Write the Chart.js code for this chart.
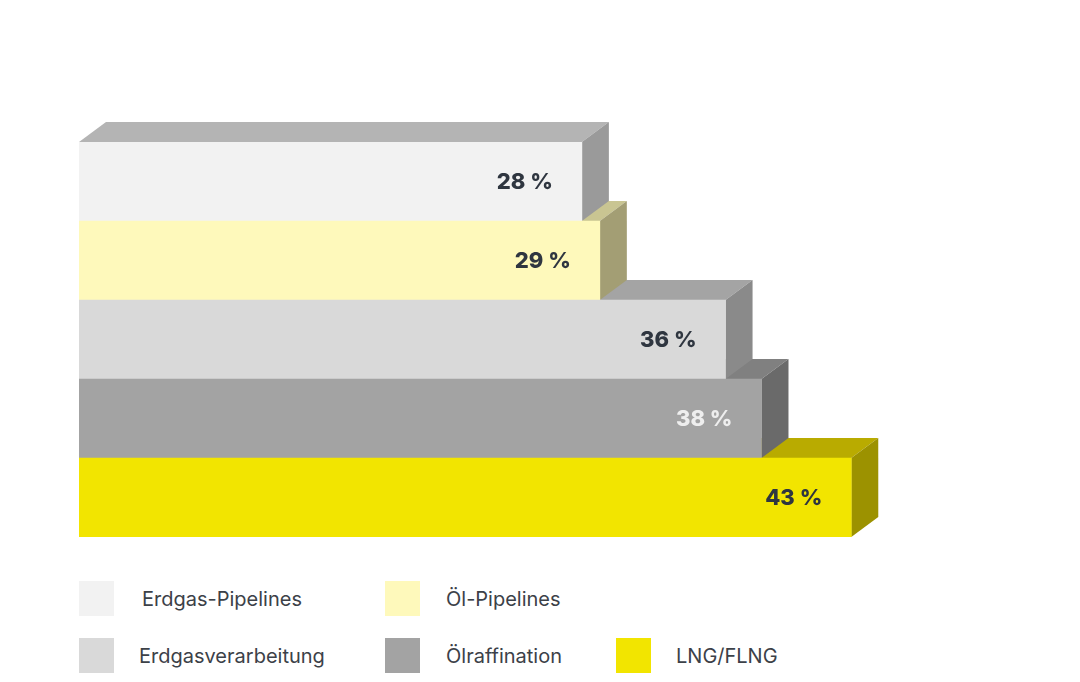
<!DOCTYPE html>
<html>
<head>
<meta charset="utf-8">
<script src="https://cdn.jsdelivr.net/npm/chart.js@4.4.1/dist/chart.umd.min.js"></script>
<style>
  body { margin: 0; background: #fff; width: 1080px; height: 682px; position: relative; overflow: hidden; }
  #wrap { position: absolute; left: 0; top: 0; width: 1080px; height: 560px; }
  .lg { position: absolute; font-family: Inter, "Noto Sans", sans-serif; font-size: 20px; color: #3c4148; }
  .sw { position: absolute; width: 35px; height: 35px; }
</style>
</head>
<body>
<div id="wrap"><canvas id="c" width="1080" height="560"></canvas></div>
<div id="legend"></div>
<script>
// data
const categories = ['Erdgas-Pipelines', 'Öl-Pipelines', 'Erdgasverarbeitung', 'Ölraffination', 'LNG/FLNG'];
const values = [28, 29, 36, 38, 43];
const frontColors = ['#f2f2f2', '#fef9bb', '#d9d9d9', '#a3a3a3', '#f2e500'];
const topColors = ['#b4b4b4', '#c9c592', '#a4a4a4', '#808080', '#b9ab00'];
const sideColors = ['#9a9a9a', '#a39e74', '#8a8a8a', '#6a6a6a', '#9c9200'];
const labelColors = ['#2f3640', '#2f3640', '#2f3640', '#eeeeee', '#2f3640'];

const DX = 27, DY = 20;

const box3d = {
  id: 'box3d',
  beforeDatasetsDraw(chart) {
    const ctx = chart.ctx;
    const bars = chart.getDatasetMeta(0).data;
    ctx.save();
    for (let i = bars.length - 1; i >= 0; i--) {
      const b = bars[i].getProps(['x', 'y', 'base', 'height'], true);
      const top = b.y - b.height / 2, bot = b.y + b.height / 2;
      // top face
      ctx.fillStyle = topColors[i];
      ctx.beginPath();
      ctx.moveTo(b.base, top);
      ctx.lineTo(b.base + DX, top - DY);
      ctx.lineTo(b.x + DX, top - DY);
      ctx.lineTo(b.x, top);
      ctx.closePath();
      ctx.fill();
      // side face
      ctx.fillStyle = sideColors[i];
      ctx.beginPath();
      ctx.moveTo(b.x, top);
      ctx.lineTo(b.x + DX, top - DY);
      ctx.lineTo(b.x + DX, bot - DY);
      ctx.lineTo(b.x, bot);
      ctx.closePath();
      ctx.fill();
    }
    ctx.restore();
  },
  afterDatasetsDraw(chart) {
    const ctx = chart.ctx;
    const bars = chart.getDatasetMeta(0).data;
    ctx.save();
    ctx.font = '800 22px Inter, "Noto Sans", sans-serif';
    ctx.textAlign = 'right';
    ctx.textBaseline = 'middle';
    bars.forEach((bar, i) => {
      const b = bar.getProps(['x', 'y'], true);
      ctx.fillStyle = labelColors[i];
      ctx.fillText(values[i] + ' %', b.x - 29, b.y + 1);
    });
    ctx.restore();
  }
};

new Chart(document.getElementById('c'), {
  type: 'bar',
  data: {
    labels: categories,
    datasets: [{
      data: values,
      backgroundColor: frontColors,
      borderWidth: 0,
      categoryPercentage: 1,
      barPercentage: 1
    }]
  },
  options: {
    indexAxis: 'y',
    responsive: false,
    animation: false,
    layout: { padding: { left: 79, right: 103, top: 142, bottom: 23 } },
    scales: {
      x: { display: false, min: 0, max: 50 },
      y: { display: false }
    },
    plugins: { legend: { display: false }, tooltip: { enabled: false } }
  },
  plugins: [box3d]
});

// legend (two rows)
const legendPos = [
  { sx: 79, sy: 581, tx: 142 },
  { sx: 385, sy: 581, tx: 446 },
  { sx: 79, sy: 638, tx: 139 },
  { sx: 385, sy: 638, tx: 446 },
  { sx: 616, sy: 638, tx: 676 }
];
const lg = document.getElementById('legend');
categories.forEach((name, i) => {
  const p = legendPos[i];
  const sw = document.createElement('div');
  sw.className = 'sw';
  sw.style.left = p.sx + 'px';
  sw.style.top = p.sy + 'px';
  sw.style.background = frontColors[i];
  lg.appendChild(sw);
  const t = document.createElement('div');
  t.className = 'lg';
  t.textContent = name;
  t.style.left = p.tx + 'px';
  t.style.top = (p.sy + 17.5) + 'px';
  t.style.transform = 'translateY(-50%)';
  lg.appendChild(t);
});
</script>
</body>
</html>
